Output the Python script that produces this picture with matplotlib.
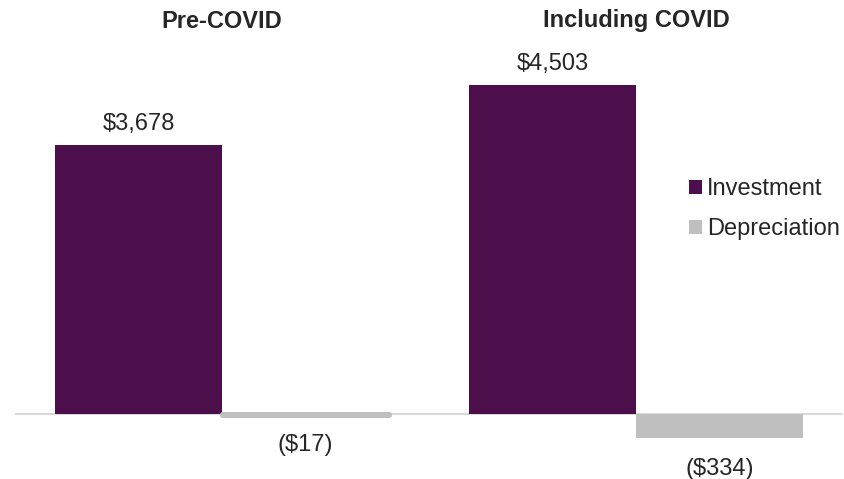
import matplotlib
matplotlib.use("Agg")
import matplotlib.pyplot as plt
from matplotlib.patches import Patch
import numpy as np

groups = ["Pre-COVID", "Including COVID"]
series = ["Investment", "Depreciation"]
investment = [3678, 4503]
depreciation = [-17, -334]
inv_labels = ["$3,678", "$4,503"]
dep_labels = ["($17)", "($334)"]

W, H = 844, 479
DPI = 100
fig = plt.figure(figsize=(W / DPI, H / DPI), dpi=DPI)
plt.rcParams['font.family'] = ['Liberation Sans', 'DejaVu Sans']

ax = fig.add_axes([15 / W, 0, 828 / W, 1])
ax.set_xlim(-0.5, 1.5)
ax.set_ylim(-889, 5663)
ax.axis('off')

txt = '#262626'
fs = 17
bw = 0.4034
x = np.arange(len(groups))
purple = '#4C0F4B'
gray = '#BFBFBF'

ax.axhline(0, color='#D9D9D9', lw=1.5, zorder=1)
b1 = ax.bar(x - bw / 2, investment, width=bw, color=purple, zorder=2)
b2 = ax.bar(x + bw / 2, depreciation, width=bw, color=gray,
            edgecolor=gray, linewidth=[3.6, 0], joinstyle='round', zorder=3)

for xi, v, lab in zip(x, investment, inv_labels):
    ax.annotate(lab, (xi - bw / 2, v), xytext=(0, 10.8), textcoords='offset points',
                ha='center', va='baseline', fontsize=fs, color=txt)
for xi, v, lab in zip(x, depreciation, dep_labels):
    ax.annotate(lab, (xi + bw / 2, v), xytext=(0, -26), textcoords='offset points',
                ha='center', va='baseline', fontsize=fs, color=txt)

for xi, g in zip(x, groups):
    ax.text(xi, 1 - 21 / H, g, transform=ax.get_xaxis_transform(), ha='center',
            va='center', fontsize=fs, fontweight='bold', color=txt)

handles = [Patch(facecolor=purple, edgecolor='none', label=series[0]),
           Patch(facecolor=gray, edgecolor='none', label=series[1])]
leg = ax.legend(handles=handles, loc='upper left', bbox_to_anchor=(689 / W, 1 - 178 / H),
                bbox_transform=fig.transFigure, frameon=False, fontsize=fs,
                handlelength=0.55, handleheight=0.55, handletextpad=0.2,
                labelspacing=0.78, borderpad=0, borderaxespad=0)
for t in leg.get_texts():
    t.set_color(txt)

fig.savefig('out.png', dpi=DPI)
